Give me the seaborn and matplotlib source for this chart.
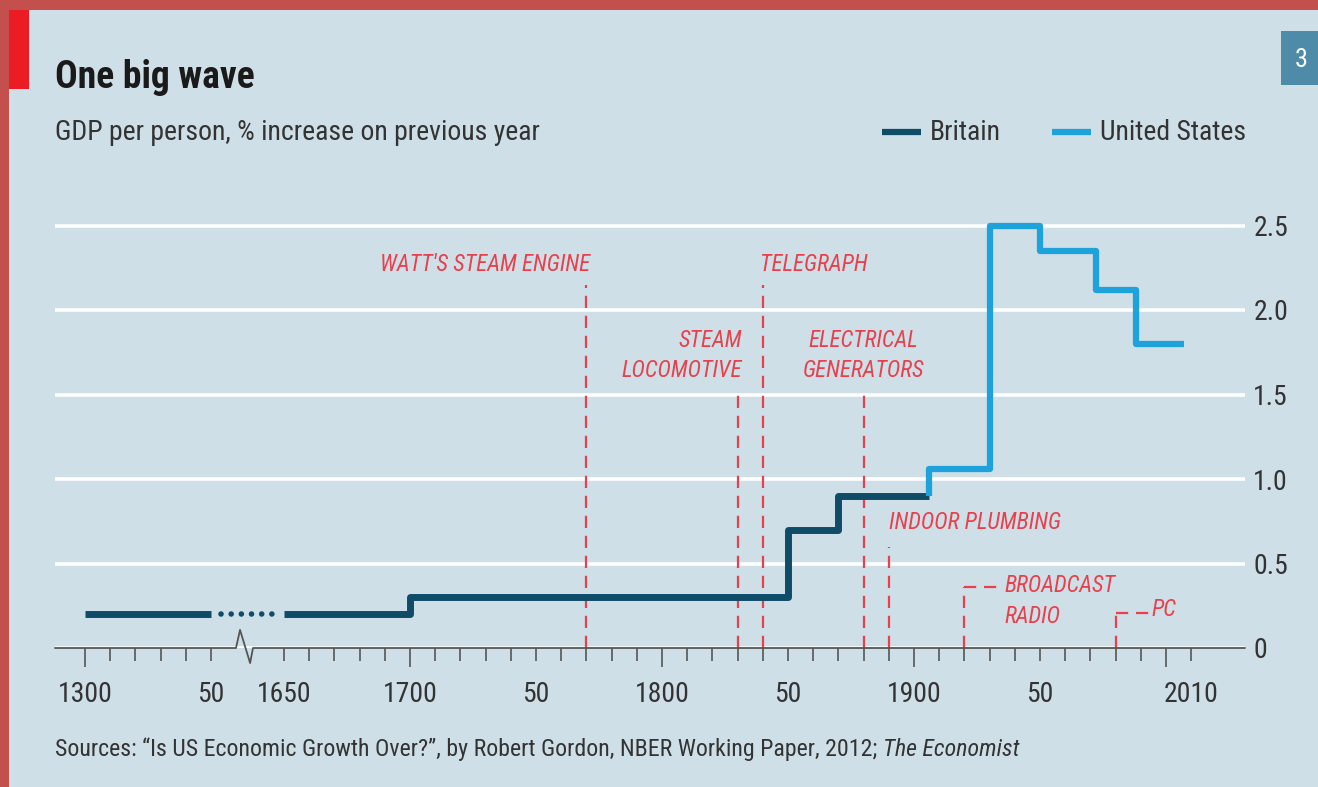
import matplotlib
matplotlib.use("Agg")
import matplotlib.pyplot as plt
from matplotlib.patches import Rectangle
import pandas as pd
import seaborn as sns

# ------------------------------------------------------------
# Data
# ------------------------------------------------------------
britain_start = [1300, 1650, 1700, 1850, 1870]
britain_end = 1906
britain_growth = [0.2, 0.2, 0.3, 0.7, 0.9]

us_start = [1906, 1930, 1950, 1972, 1988]
us_end = 2007
us_growth = [1.06, 2.5, 2.35, 2.12, 1.8]

event_names = ["WATT'S STEAM ENGINE", "STEAM\nLOCOMOTIVE", "TELEGRAPH",
               "ELECTRICAL\nGENERATORS", "INDOOR PLUMBING", "BROADCAST\nRADIO", "PC"]
event_years = [1770, 1830, 1840, 1880, 1890, 1920, 1980]

tick_years = [1300, 1310, 1320, 1330, 1340, 1350] + list(range(1650, 2011, 10))
tick_labels = {1300: "1300", 1350: "50", 1650: "1650", 1700: "1700", 1750: "50",
               1800: "1800", 1850: "50", 1900: "1900", 1950: "50", 2010: "2010"}
y_ticks = [0, 0.5, 1.0, 1.5, 2.0, 2.5]
y_labels = ["0", "0.5", "1.0", "1.5", "2.0", "2.5"]

# ------------------------------------------------------------
# Style
# ------------------------------------------------------------
BG = "#cfdfe7"
FRAME = "#c4504e"
TAG = "#ec1c24"
BRITAIN = "#0f4c68"
US = "#1ea2dc"
RED = "#e8404c"
AXIS = "#555555"
TEXT = "#333333"

sns.set_theme(style="white")
plt.rcParams["font.family"] = ["Roboto Condensed", "DejaVu Sans"]

# break in the time axis between 1350 and 1650
GAP = 29


def to_u(year):
    return year - 1300 if year <= 1350 else year - 1650 + 50 + GAP


def step_frame(starts, end, values, name, lead=None):
    xs = [to_u(s) for s in starts] + [to_u(end)]
    ys = list(values) + [values[-1]]
    if lead is not None:
        xs = [xs[0]] + xs
        ys = [lead] + ys
    return pd.DataFrame({"u": xs, "growth": ys, "country": name})


W, H = 1318, 787
fig = plt.figure(figsize=(W / 100, H / 100), dpi=100, facecolor=FRAME)


def fx(px):
    return px / W


def fy(py):
    return 1 - py / H


fig.patches.append(Rectangle((fx(9), 0), 1, fy(10), transform=fig.transFigure,
                             facecolor=BG, edgecolor="none", zorder=-2))
fig.patches.append(Rectangle((fx(9), fy(89)), fx(20), fy(10) - fy(89),
                             transform=fig.transFigure, facecolor=TAG,
                             edgecolor="none", zorder=-1))
fig.patches.append(Rectangle((fx(1281), fy(85)), fx(40), fy(31) - fy(85),
                             transform=fig.transFigure, facecolor="#4d8ba8",
                             edgecolor="none", zorder=-1))
fig.text(fx(1301), fy(60), "3", color="white", fontsize=19, ha="center", va="center")

ax = fig.add_axes([fx(55), fy(648), fx(1190), fy(200) - fy(648)])
ax.set_facecolor("none")
ax.set_xlim(-30 / 2.52, 1160 / 2.52)
ax.set_ylim(0, 448 / 169)

# gridlines
ax.set_yticks(y_ticks)
ax.set_yticklabels(y_labels)
ax.yaxis.tick_right()
ax.grid(axis="y", color="white", lw=2.6)
ax.tick_params(axis="y", length=0, pad=6, labelsize=20, labelcolor=TEXT)
for s in ax.spines.values():
    s.set_visible(False)

# x axis line with break zigzag
b0 = to_u(1350) + (235 - 210) / 2.52
b1 = to_u(1350) + (252 - 210) / 2.52
ax.plot([ax.get_xlim()[0], b0, b0 + 1.6, b0 + 5.6, b1, ax.get_xlim()[1]],
        [0, 0, 0.107, -0.089, 0, 0], color=AXIS, lw=1.3, clip_on=False, zorder=3)

ax.set_xticks([to_u(y) for y in tick_years])
ax.set_xticklabels([tick_labels.get(y, "") for y in tick_years])
ax.tick_params(axis="x", direction="out", color=AXIS, width=1.2, length=9.5,
               pad=14, labelsize=20, labelcolor=TEXT, bottom=True)
for y, t in zip(tick_years, ax.xaxis.get_major_ticks()):
    if y % 100 == 0:
        t.tick1line.set_markersize(13.5)

# event markers
label_spec = {
    "WATT'S STEAM ENGINE": dict(top=2.15, dx=4, y=2.27, ha="right", va="center"),
    "TELEGRAPH": dict(top=2.15, dx=-3, y=2.27, ha="left", va="center"),
    "STEAM\nLOCOMOTIVE": dict(top=1.51, dx=4, y=1.73, ha="right", va="center"),
    "ELECTRICAL\nGENERATORS": dict(top=1.51, dx=0, y=1.73, ha="center", va="center"),
    "INDOOR PLUMBING": dict(top=0.60, dx=0, y=0.74, ha="left", va="center"),
    "BROADCAST\nRADIO": dict(top=0.36, dx=40, y=0.435, ha="left", va="top", link=35),
    "PC": dict(top=0.21, dx=36, y=0.23, ha="left", va="center", link=34),
}
for name, year in zip(event_names, event_years):
    sp = label_spec[name]
    u = to_u(year)
    ax.plot([u, u], [0, sp["top"]], color=RED, lw=1.6, ls=(0, (5.5, 3.5)), zorder=2)
    if "link" in sp:
        ax.plot([u, u + sp["link"] / 2.52], [sp["top"], sp["top"]], color=RED,
                lw=1.6, ls=(0, (5.5, 3.5)), zorder=2)
    ax.text(u + sp["dx"] / 2.52, sp["y"], name, color=RED, fontsize=16.5,
            fontstyle="italic", ha=sp["ha"], va=sp["va"], linespacing=1.4)

# series
brit = step_frame(britain_start, britain_end, britain_growth, "Britain")
early = brit[brit["u"] <= to_u(1350)]
early = pd.concat([early, pd.DataFrame({"u": [to_u(1350)], "growth": [britain_growth[0]],
                                        "country": "Britain"})])
late = brit[brit["u"] >= to_u(1650)]
us = step_frame(us_start, us_end, us_growth, "United States", lead=britain_growth[-1])

for part in [early, late]:
    sns.lineplot(data=part, x="u", y="growth", ax=ax, color=BRITAIN, lw=5,
                 drawstyle="steps-post", estimator=None, sort=False,
                 solid_capstyle="butt", zorder=4)
sns.lineplot(data=us, x="u", y="growth", ax=ax, color=US, lw=4.5,
             drawstyle="steps-post", estimator=None, sort=False,
             solid_capstyle="butt", zorder=4)
# dotted bridge across the break
ax.plot([to_u(1350) + 10 / 2.52, to_u(1650) - 9 / 2.52], [britain_growth[0]] * 2,
        color=BRITAIN, lw=4, ls=(0, (0.01, 1.82)), dash_capstyle="round", zorder=4)
ax.set_xlabel("")
ax.set_ylabel("")

# titles
fig.text(fx(55), fy(78), "One big wave", fontsize=27, fontweight="bold",
         color="#1a1a1a", va="center")
fig.text(fx(55), fy(133), "GDP per person, % increase on previous year",
         fontsize=20, color=TEXT, va="center")
src = fig.text(fx(55), fy(756), "Sources: \u201cIs US Economic Growth Over?\u201d, by Robert Gordon, "
               "NBER Working Paper, 2012; ", fontsize=17.2, color=TEXT, va="baseline")
fig.canvas.draw()
src_end = src.get_window_extent().x1 / fig.dpi / fig.get_size_inches()[0]
fig.text(src_end, fy(756), "The Economist", fontsize=17.2, color=TEXT,
         fontstyle="italic", va="baseline")

# legend
for x0, label, col in [(882, "Britain", BRITAIN), (1052, "United States", US)]:
    fig.add_artist(plt.Line2D([fx(x0), fx(x0 + 39)], [fy(132), fy(132)], color=col,
                              lw=4.5, solid_capstyle="butt"))
    fig.text(fx(x0 + 48), fy(132), label, fontsize=20, color=TEXT, va="center")

fig.savefig("out.png", dpi=100, facecolor=FRAME)
